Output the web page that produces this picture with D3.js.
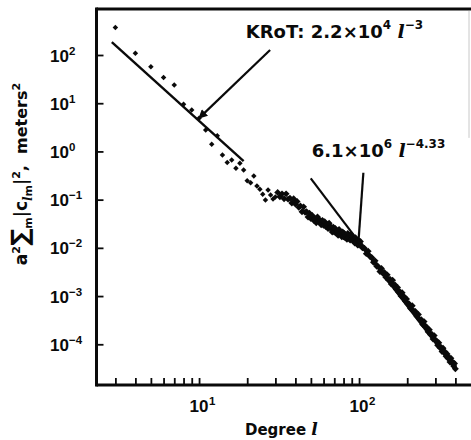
<!DOCTYPE html>
<html><head><meta charset="utf-8">
<script src="https://cdn.jsdelivr.net/npm/d3@7"></script>
<style>body{margin:0;background:#fff}svg{display:block}text{white-space:pre}</style>
</head><body>
<script>
// ---- data (log10 of power, meters^2) ----
const degreeLow = [3,4,5,6,7,8,9,10,11,12,13,14,15,16,17,18,19,20,21,22,23,24,25,26,27,28,29,30];
const logPowerLow = [2.57,2.035,1.757,1.533,1.378,0.977,0.859,0.687,0.444,0.147,0.326,-0.075,-0.23,-0.178,-0.351,-0.247,-0.386,-0.608,-0.649,-0.51,-0.718,-0.786,-0.89,-1.008,-0.801,-0.905,-0.988,-0.946];
const degreeBand = [31,32,33,34,35,36,37,38,39,40,41,42,43,44,45,46,47,48,49,50,51,52,53,54,55,56,57,58,59,60,61,62,63,64,65,66,67,68,69,70,71,72,73,74,75,76,77,78,79,80,81,82,83,84,85,86,87,88,89,90,91,92,93,94,95,96,97,98,99,100,
102,105,108,111,114,117,120,123,126,129,132,135,138,141,144,147,150,153,156,159,162,165,168,171,174,177,180,183,186,189,192,195,198,201,
205,210,215,220,225,230,235,240,245,250,255,260,265,270,275,280,285,290,295,300,305,310,315,320,325,330,335,340,345,350,355,360,365,370,375,380,385,390,395,400];
const logPowerBand = [
-0.85,-0.94,-0.88,-0.98,-0.88,-0.99,-0.97,-1.07,-0.98,-1.09,
-1.04,-1.16,-1.13,-1.25,-1.15,-1.26,-1.25,-1.36,-1.28,-1.39,
-1.33,-1.43,-1.39,-1.48,-1.36,-1.46,-1.43,-1.52,-1.43,-1.53,
-1.46,-1.56,-1.51,-1.60,-1.49,-1.59,-1.57,-1.67,-1.57,-1.67,
-1.60,-1.70,-1.65,-1.74,-1.62,-1.71,-1.68,-1.77,-1.67,-1.77,
-1.70,-1.79,-1.74,-1.82,-1.70,-1.78,-1.75,-1.84,-1.73,-1.83,
-1.76,-1.86,-1.81,-1.90,-1.79,-1.88,-1.85,-1.94,-1.84,-1.94,
-1.87,-2.00,-2.01,-2.12,-2.07,-2.18,-2.20,-2.30,-2.27,-2.38,-2.39,-2.49,-2.43,-2.53,-2.51,-2.61,-2.56,-2.67,-2.65,-2.75,
-2.67,-2.77,-2.77,-2.86,-2.82,-2.92,-2.91,-3.00,-2.93,-3.02,-3.02,-3.11,-3.06,-3.16,
-3.16,-3.26,-3.20,-3.31,-3.32,-3.42,-3.38,-3.49,-3.49,-3.59,-3.53,-3.62,-3.65,-3.74,-3.70,-3.80,-3.79,-3.89,-3.82,-3.91,
-3.93,-4.02,-3.97,-4.07,-4.06,-4.15,-4.08,-4.17,-4.16,-4.25,-4.20,-4.29,-4.28,-4.37,-4.29,-4.38,-4.37,-4.45,-4.40,-4.51];

// fitted power laws (coefficient, exponent, degree range)
const kaulaCoef = 4.3e3, kaulaExp = -3, kaulaRange = [2.85, 19];
const fitCoef = 6.1e6, fitExp = -4.33, fitRange = [100, 400];

// axis ticks
const yTickExponents = [2,1,0,-1,-2,-3,-4];
const xTicks = [3,4,5,6,7,8,9,10,20,30,40,50,60,70,80,90,100,200,300,400];
const xLabelTicks = [[10,"1"],[100,"2"]];

// annotation anchors (degree, value)
const kaulaArrow = [[27.8,127],[10,4.9]];
const fitPointerA = [[49.9,0.277],[100,0.0132]];
const fitPointerB = [[106.4,0.361],[99,0.0125]];
const kaulaLabelAt = [19.6,225];
const fitLabelAt = [50.6,0.766];

// ---- layout ----
const W = 471, H = 440;
const svg = d3.select("body").append("svg").attr("width",W).attr("height",H);
const x = d3.scaleLog().domain([2.286,570]).range([96.5,480]);
const y = d3.scaleLog().domain([1.43e-5,900]).range([385,9]);
const ink = "#0a0a0a";
const numFont = "'Liberation Sans', Arial, sans-serif";
const labFont = "'DejaVu Sans', sans-serif";
const lFont = "'DejaVu Serif', serif";

function rich(g, px, py, parts, font, anchor){
  const t = g.append("text").attr("x",px).attr("y",py).attr("font-family",font)
    .attr("font-weight","bold").attr("fill",ink).attr("text-anchor",anchor||"start");
  let prev = 0;
  parts.forEach(p=>{
    const s = p.shift||0;
    const ts = t.append("tspan").attr("dy", prev - s).attr("font-size", p.size).text(p.t);
    if(p.italic){ ts.attr("font-style","italic").attr("font-family", lFont); }
    prev = s;
  });
  return t;
}

// frame
const x0 = x.range()[0];
svg.append("line").attr("x1",x0).attr("x2",x0).attr("y1",y.range()[1]-1.5).attr("y2",y.range()[0]+1.5).attr("stroke",ink).attr("stroke-width",3);
svg.append("line").attr("x1",x0).attr("x2",W).attr("y1",y.range()[1]).attr("y2",y.range()[1]).attr("stroke",ink).attr("stroke-width",3);
svg.append("line").attr("x1",x0).attr("x2",W).attr("y1",y.range()[0]).attr("y2",y.range()[0]).attr("stroke",ink).attr("stroke-width",3);
// faint scan edge at right
svg.append("line").attr("x1",W-2).attr("x2",W-2).attr("y1",y.range()[1]+2).attr("y2",y(0.8e1)+30).attr("stroke","#c8c8c8").attr("stroke-width",1);

// y ticks (inward)
const yAxis = d3.axisLeft(y).tickValues(yTickExponents.map(e=>Math.pow(10,e))).tickSizeInner(-7).tickSizeOuter(0).tickFormat("");
const gy = svg.append("g").attr("transform",`translate(${x0},0)`).call(yAxis);
gy.select(".domain").remove();
gy.selectAll(".tick line").attr("stroke",ink).attr("stroke-width",1.8);
yTickExponents.forEach(e=>{
  const yy = y(Math.pow(10,e));
  const sup = e<0 ? "\u2212"+(-e) : String(e);
  rich(svg, 50, yy+6.5, [{t:"10",size:17},{t:sup,size:11.5,shift:7}], numFont);
});

// x ticks (inward)
const xAxis = d3.axisBottom(x).tickValues(xTicks).tickSizeInner(-7).tickSizeOuter(0).tickFormat("");
const gx = svg.append("g").attr("transform",`translate(0,${y.range()[0]})`).call(xAxis);
gx.select(".domain").remove();
gx.selectAll(".tick line").attr("stroke",ink).attr("stroke-width",1.8);
xLabelTicks.forEach(([v,s])=>{
  const t = svg.append("text").attr("x",x(v)).attr("y",412).attr("text-anchor","middle")
    .attr("font-family",numFont).attr("font-weight","bold").attr("font-size",17).attr("fill",ink).text("10");
  const w = t.node().getComputedTextLength();
  svg.append("text").attr("x",x(v)+w/2+0.5).attr("y",405).attr("font-family",numFont)
    .attr("font-weight","bold").attr("font-size",11.5).attr("fill",ink).text(s);
});

// axis titles
rich(svg, 245, 435, [{t:"Degree ",size:15},{t:"l",size:17,italic:true}], labFont);
const yt = svg.append("g").attr("transform","translate(27,174) rotate(-90)");
rich(yt, 0, 0, [
  {t:"a",size:17},{t:"2",size:11,shift:7},{t:"\u2211",size:24,shift:-1},{t:"m",size:11,shift:-5},
  {t:"|c",size:17},{t:"l",size:12,shift:-5,italic:true},{t:"m",size:11,shift:-5},{t:"|",size:17},
  {t:"2",size:11,shift:7},{t:",  meters",size:16},{t:"2",size:11,shift:7}
], labFont, "middle");

// data points
const lowPts = degreeLow.map((d,i)=>[d,Math.pow(10,logPowerLow[i])]);
const bandPts = degreeBand.map((d,i)=>[d,Math.pow(10,logPowerBand[i])]);
svg.append("g").selectAll("path").data(lowPts).join("path")
  .attr("d", d3.symbol(d3.symbolSquare, 15)).attr("fill", ink)
  .attr("transform", d=>`translate(${x(d[0])},${y(d[1])}) rotate(45)`);
svg.append("g").selectAll("path").data(bandPts).join("path")
  .attr("d", d3.symbol(d3.symbolSquare, 24)).attr("fill", ink)
  .attr("transform", d=>`translate(${x(d[0])},${y(d[1])}) rotate(45)`);

// fit lines
const line = d3.line().x(d=>x(d[0])).y(d=>y(d[1]));
const kaulaPts = kaulaRange.map(l=>[l, kaulaCoef*Math.pow(l,kaulaExp)]);
svg.append("path").attr("d",line(kaulaPts)).attr("stroke",ink).attr("stroke-width",2.4).attr("fill","none");
const fitPts = fitRange.map(l=>[l, fitCoef*Math.pow(l,fitExp)]);
svg.append("path").attr("d",line(fitPts)).attr("stroke",ink).attr("stroke-width",4).attr("fill","none");

// annotation pointers
[fitPointerA, fitPointerB].forEach(p=>{
  svg.append("path").attr("d",line(p)).attr("stroke",ink).attr("stroke-width",2.2).attr("fill","none");
});
svg.append("defs").append("marker").attr("id","ah").attr("viewBox","0 0 10 10").attr("refX",9).attr("refY",5)
  .attr("markerWidth",10).attr("markerHeight",9).attr("markerUnits","userSpaceOnUse").attr("orient","auto")
  .append("path").attr("d","M0,0 L10,5 L0,10 Z").attr("fill",ink);
svg.append("path").attr("d",line(kaulaArrow)).attr("stroke",ink).attr("stroke-width",2.2).attr("fill","none").attr("marker-end","url(#ah)");

// labels
rich(svg, x(kaulaLabelAt[0]), y(kaulaLabelAt[1]), [
  {t:"KRoT: 2.2\u00d710",size:18},{t:"4",size:12,shift:9},{t:" ",size:18},{t:"l",size:19,italic:true},{t:"\u22123",size:12,shift:9}
], labFont);
rich(svg, x(fitLabelAt[0]), y(fitLabelAt[1]), [
  {t:"6.1\u00d710",size:18},{t:"6",size:12,shift:9},{t:" ",size:18},{t:"l",size:19,italic:true},{t:"\u22124.33",size:12,shift:9}
], labFont);
</script>
</body></html>
